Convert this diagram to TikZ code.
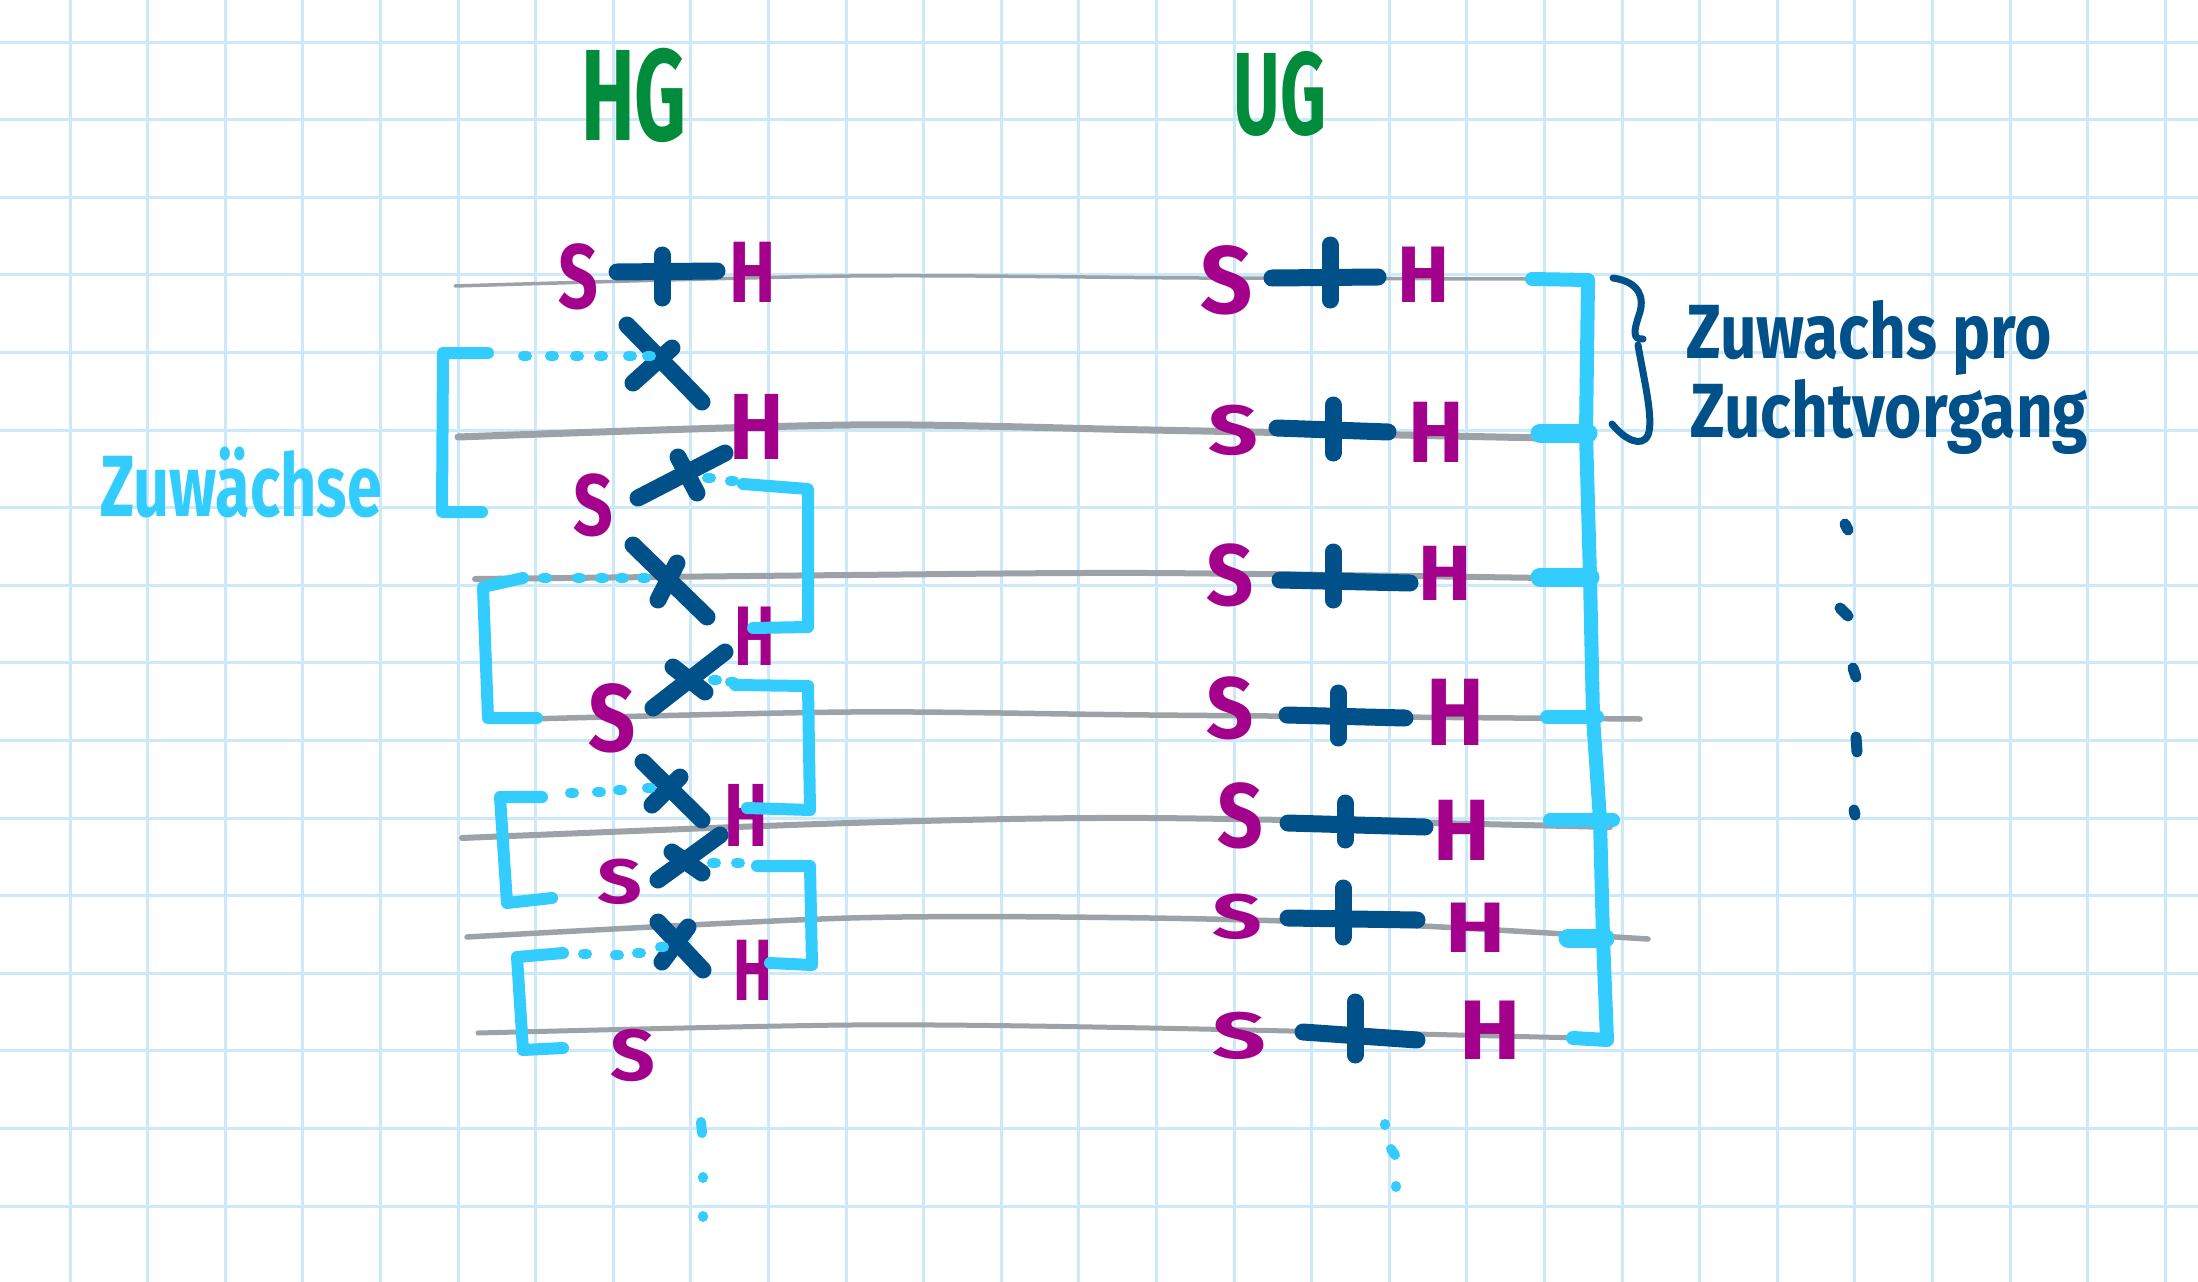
\documentclass[tikz,border=0pt]{standalone}
\usepackage{graphicx}
\usepackage{fontspec}
\newfontfamily\hand{Fira Sans}
\definecolor{mag}{RGB}{163,0,140}
\definecolor{navy}{RGB}{0,80,138}
\definecolor{sky}{RGB}{51,204,255}
\definecolor{grn}{RGB}{0,140,58}
\definecolor{pencilc}{RGB}{155,163,168}
\definecolor{gridc}{RGB}{204,233,250}
\newcommand\scb[3]{\scalebox{#1}[#2]{#3}}
\tikzset{
  gridline/.style={gridc, line width=3},
  pencilline/.style={pencilc, line cap=round, line join=round},
  crossstroke/.style={navy, line width=17, line cap=round},
  brack/.style={sky, line width=12, line cap=round, line join=round},
  skydot/.style={sky, line width=10, line cap=round},
  navydot/.style={navy, line width=11, line cap=round},
  lt/.style={text=mag, inner sep=0, font={\hand\bfseries\fontsize{87}{87}\selectfont}},
  head/.style={text=grn, inner sep=0, font={\hand\bfseries\fontsize{130}{130}\selectfont}},
  note/.style={text=navy, inner sep=0, font={\hand\bfseries\fontsize{64}{64}\selectfont}},
  skynote/.style={text=sky, inner sep=0, font={\hand\bfseries\fontsize{60}{60}\selectfont}},
}
\begin{document}
\begin{tikzpicture}[x=1pt,y=-1pt]
\useasboundingbox (0,0) rectangle (2198,1282);
\fill[white] (0,0) rectangle (2198,1282);
% grid
\foreach \i in {0,...,27} \draw[gridline] ({70+77.6*\i},0) -- ++(0,1282);
\foreach \j in {0,...,16} \draw[gridline] (0,{42+77.6*\j}) -- ++(2198,0);

% headers
\node[head] (hg) at (634,95) {\scb{0.62}{1}{HG}};
\node[head] (ug) at (1280,94) {\scb{0.55}{0.9}{UG}};

% pencil lines
\draw[pencilline, line width=3.5] plot[smooth] coordinates {(455,286) (850,276) (1200,278) (1530,279)};
\draw[pencilline, line width=7] plot[smooth] coordinates {(458,437) (850,425) (1150,430) (1545,438)};
\draw[pencilline, line width=6] plot[smooth] coordinates {(475,579) (850,575) (1150,573) (1545,578)};
\draw[pencilline, line width=5.5] plot[smooth] coordinates {(491,720) (850,712) (1150,715) (1640,719)};
\draw[pencilline, line width=6] plot[smooth] coordinates {(462,838) (850,823) (1150,818) (1610,827)};
\draw[pencilline, line width=5.5] plot[smooth] coordinates {(467,937) (850,918) (1150,918) (1400,925) (1648,939)};
\draw[pencilline, line width=5] plot[smooth] coordinates {(478,1033) (850,1025) (1150,1028) (1580,1038)};

% ---------- HG column ----------
\node[lt] (hs1) at (578,277) {\scb{0.8}{1.05}{S}};
\draw[crossstroke] (617,272) -- (717,271);
\draw[crossstroke] (662,255) -- (662,298);
\node[lt] (hh1) at (753,272) {\scb{0.8}{1}{H}};

\draw[crossstroke] (627,325) -- (702,402);
\draw[crossstroke] (633,383) -- (672,348);
\node[lt] (hh2) at (757,427) {\scb{0.94}{1.08}{H}};
\node[lt] (hs2) at (593,505) {\scb{0.8}{1}{S}};
\draw[crossstroke] (638,498) -- (725,453);
\draw[crossstroke] (678,457) -- (697,493);
\draw[crossstroke] (633,545) -- (707,617);
\draw[crossstroke] (658,600) -- (677,563);
\node[lt] (hh3) at (755,636) {\scb{0.7}{0.97}{H}};
\draw[crossstroke] (653,708) -- (725,652);
\draw[crossstroke] (673,667) -- (705,692);
\node[lt] (hs3) at (612,718) {\scb{0.95}{1.1}{S}};
\draw[crossstroke] (643,762) -- (702,820);
\draw[crossstroke] (652,805) -- (680,777);
\node[lt] (hh4) at (746,815) {\scb{0.75}{1.03}{H}};
\draw[crossstroke] (658,880) -- (720,835);
\draw[crossstroke] (672,852) -- (702,873);
\node[lt] (hs4) at (620,882) {\scb{0.9}{0.72}{S}};
\draw[crossstroke] (658,922) -- (703,970);
\draw[crossstroke] (662,962) -- (688,927);
\node[lt] (hh5) at (753,970) {\scb{0.67}{1}{H}};
\node[lt] (hs5) at (633,1055) {\scb{0.9}{0.83}{S}};

% left brackets
\draw[brack] (488,353) -- (443,353) -- (442,512) -- (482,512);
\foreach \x in {523,550,575,599,628,647} \draw[skydot] (\x,356) -- ++(4,0);
\draw[brack] (523,578) -- (483,587) -- (488,718) -- (537,718);
\foreach \x in {543,577,600,620,642} \draw[skydot] (\x,578) -- ++(4,0);
\draw[brack] (542,797) -- (500,797) -- (507,903) -- (552,898);
\foreach \x/\y in {570/793,597/792,618/790,647/788} \draw[skydot] (\x,\y) -- ++(4,0);
\draw[brack] (563,953) -- (517,957) -- (523,1050) -- (563,1048);
\foreach \x/\y in {583/954,615/955,637/953,660/947} \draw[skydot] (\x,\y) -- ++(4,0);

% right brackets
\foreach \x/\y in {707/478,730/481} \draw[skydot] (\x,\y) -- ++(4,0);
\draw[brack] (743,484) -- (808,489) -- (808,627) -- (753,628);
\foreach \x/\y in {713/680,730/682} \draw[skydot] (\x,\y) -- ++(4,0);
\draw[brack] (735,685) -- (808,686) -- (810,810) -- (747,808);
\foreach \x/\y in {712/863,736/863} \draw[skydot] (\x,\y) -- ++(4,0);
\draw[brack] (757,866) -- (810,866) -- (812,965) -- (770,963);

% left label
\node[skynote, anchor=base west] (zuw) at (100,516) {\scb{1.05}{1.45}{Zuwächse}};

% bottom dots HG
\draw[skydot] (701,1122) -- (702,1133);
\draw[skydot] (703,1177) -- ++(0,1);
\draw[skydot] (703,1216) -- ++(0,1);

% ---------- UG column ----------
\node[lt] (us1) at (1227,280) {\scb{1.05}{1.1}{S}};
\draw[crossstroke] (1272,278) -- (1378,277);
\draw[crossstroke] (1330,245) -- (1330,300);
\node[lt] (uh1) at (1424,275) {\scb{0.9}{0.92}{H}};

\node[lt] (us2) at (1233,430) {\scb{1}{0.8}{S}};
\draw[crossstroke] (1277,428) -- (1388,432);
\draw[crossstroke] (1333,405) -- (1333,453);
\node[lt] (uh2) at (1436,432) {\scb{0.96}{1}{H}};

\node[lt] (us3) at (1230,575) {\scb{0.95}{1}{S}};
\draw[crossstroke] (1280,580) -- (1410,583);
\draw[crossstroke] (1333,552) -- (1333,600);
\node[lt] (uh3) at (1445,573) {\scb{0.92}{0.9}{H}};

\node[lt] (us4) at (1230,708) {\scb{0.95}{1}{S}};
\draw[crossstroke] (1287,715) -- (1405,718);
\draw[crossstroke] (1338,693) -- (1338,738);
\node[lt] (uh4) at (1455,712) {\scb{1}{1.1}{H}};

\node[lt] (us5) at (1240,816) {\scb{0.92}{1.05}{S}};
\draw[crossstroke] (1288,823) -- (1425,827);
\draw[crossstroke] (1345,803) -- (1345,840);
\node[lt] (uh5) at (1462,830) {\scb{0.98}{1}{H}};

\node[lt] (us6) at (1237,917) {\scb{1}{0.72}{S}};
\draw[crossstroke] (1288,918) -- (1417,920);
\draw[crossstroke] (1343,888) -- (1343,937);
\node[lt] (uh6) at (1476,928) {\scb{1.04}{0.82}{H}};

\node[lt] (us7) at (1239,1036) {\scb{1.08}{0.75}{S}};
\draw[crossstroke] (1303,1032) -- (1417,1040);
\draw[crossstroke] (1355,1002) -- (1355,1055);
\node[lt] (uh7) at (1490,1030) {\scb{1.06}{0.97}{H}};

% right chain bracket
\draw[brack, line width=14] (1532,279) -- (1588,280) -- (1586,433) -- (1590,577) -- (1593,717) -- (1600,820) -- (1603,938) -- (1607,1040) -- (1573,1038);
\draw[brack, line width=19] (1540,433) -- (1588,433);
\draw[brack, line width=19] (1540,577) -- (1590,577);
\draw[brack, line width=14] (1547,717) -- (1597,717);
\draw[brack, line width=14] (1550,820) -- (1613,820);
\draw[brack, line width=19] (1568,938) -- (1605,938);

% curly brace
\draw[navy, line width=7, line cap=round, line join=round]
  (1613,278) .. controls (1640,282) and (1645,298) .. (1639,315)
  .. controls (1634,330) and (1632,340) .. (1643,339);
\draw[navy, line width=7, line cap=round, line join=round]
  (1638,345) .. controls (1644,380) and (1654,420) .. (1648,435)
  .. controls (1642,448) and (1625,440) .. (1612,424);

% right notes
\node[note, anchor=base west] (n1) at (1686,358) {\scb{1}{1.2}{Zuwachs pro}};
\node[note, anchor=base west] (n2) at (1690,437) {\scb{1}{1.2}{Zuchtvorgang}};

% right navy dots
\draw[navydot] (1845,524) -- (1848,530);
\draw[navydot] (1840,608) -- (1848,616);
\draw[navydot] (1853,668) -- (1856,677);
\draw[navydot] (1856,737) -- (1857,752);
\draw[navydot] (1854,810) -- (1855,815);

% bottom dots UG
\draw[skydot] (1385,1124) -- ++(0,1);
\draw[skydot] (1391,1149) -- (1395,1155);
\draw[skydot] (1396,1186) -- ++(0,1);
\end{tikzpicture}
\end{document}
